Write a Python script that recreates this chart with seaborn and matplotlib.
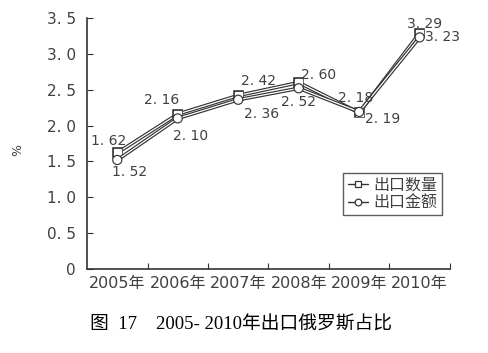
import pandas as pd
import seaborn as sns
import matplotlib.pyplot as plt
import matplotlib.patheffects as pe

years = ['2005年', '2006年', '2007年', '2008年', '2009年', '2010年']
qty_share = [1.62, 2.16, 2.42, 2.60, 2.18, 3.29]
value_share = [1.52, 2.10, 2.36, 2.52, 2.19, 3.23]
y_ticks = [0, 0.5, 1.0, 1.5, 2.0, 2.5, 3.0, 3.5]
y_tick_labels = ['0', '0. 5', '1. 0', '1. 5', '2. 0', '2. 5', '3. 0', '3. 5']

# label offsets in pixels (text placement only)
qty_offsets = [(-9, 12), (-16, 14), (20, 14), (20, 8), (-4, 15), (5, 9)]
value_offsets = [(12, -12), (13, -18), (23, -14), (0, -14), (23, -7), (23, 0)]

sns.set_style('ticks')
plt.rcParams['font.family'] = ['DejaVu Sans', 'Noto Sans CJK SC']
text_color = '#404040'
line_color = '#333333'

df = pd.DataFrame({'x': range(len(years)), 'qty': qty_share, 'value': value_share})

fig = plt.figure(figsize=(4.89, 3.53), dpi=100)
ax = fig.add_axes([0.178, 0.238, 0.742, 0.711])

double = [pe.Stroke(linewidth=2.6, foreground=line_color), pe.Stroke(linewidth=0.9, foreground='white')]

sns.lineplot(data=df, x='x', y='qty', ax=ax, marker='s', markersize=4.8,
             markerfacecolor='white', markeredgecolor=line_color, markeredgewidth=0.9,
             color=line_color, linewidth=1.0, label='出口数量', path_effects=double)
sns.lineplot(data=df, x='x', y='value', ax=ax, marker='o', markersize=4.8,
             markerfacecolor='white', markeredgecolor=line_color, markeredgewidth=0.9,
             color=line_color, linewidth=1.0, label='出口金额', path_effects=double)

for i, (v, off) in enumerate(zip(qty_share, qty_offsets)):
    ax.annotate(f'{v:.2f}'.replace('.', '. '), (i, v), xytext=off, textcoords='offset pixels',
                ha='center', va='center', fontsize=10, color=text_color)
for i, (v, off) in enumerate(zip(value_share, value_offsets)):
    ax.annotate(f'{v:.2f}'.replace('.', '. '), (i, v), xytext=off, textcoords='offset pixels',
                ha='center', va='center', fontsize=10, color=text_color)

ax.set_xlim(-0.5, len(years) - 0.5)
ax.set_ylim(0, 3.5)
ax.set_xticks([i + 0.5 for i in range(len(years))])
ax.set_xticklabels([])
ax.set_xticks(range(len(years)), minor=True)
ax.set_xticklabels(years, minor=True, fontsize=11.5, color=text_color)
ax.tick_params(axis='x', which='major', direction='in', length=4, color=line_color)
ax.tick_params(axis='x', which='minor', length=0, pad=5)
ax.set_yticks(y_ticks)
ax.set_yticklabels(y_tick_labels, fontsize=11, color=text_color)
ax.tick_params(axis='y', direction='in', length=4, color=line_color, pad=8)
ax.set_xlabel('')
ax.set_ylabel('')
for s in ['top', 'right']:
    ax.spines[s].set_visible(False)
for s in ['left', 'bottom']:
    ax.spines[s].set_color(line_color)
    ax.spines[s].set_linewidth(1.2)

fig.text(18 / 489, 1 - 150 / 353, '%', rotation=90, ha='center', va='center',
         fontsize=9, color=text_color)

leg = ax.legend(loc='upper right', bbox_to_anchor=(0.978, 0.382), frameon=True, fancybox=False,
                edgecolor=line_color, fontsize=11.5, handlelength=1.3, handletextpad=0.3,
                borderaxespad=0, borderpad=0.3, labelspacing=0.15)
leg.get_frame().set_linewidth(1.0)
for t in leg.get_texts():
    t.set_color(text_color)
for h in leg.get_lines():
    h.set_path_effects([])
    h.set_linewidth(1.0)

fig.text(0.492, 1 - 325 / 353, '图  17    2005- 2010年出口俄罗斯占比', ha='center', va='center',
         fontsize=13.5, family=['Liberation Serif', 'Noto Sans CJK SC'], color='black')

fig.savefig('out.png', dpi=100)
